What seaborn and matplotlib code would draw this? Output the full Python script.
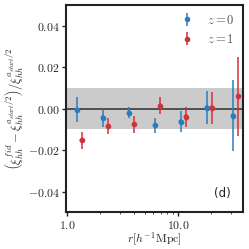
import numpy as np
import pandas as pd
import seaborn as sns
import matplotlib.pyplot as plt
from matplotlib.ticker import FuncFormatter, FixedLocator

sns.set_style("ticks")
plt.rcParams["mathtext.fontset"] = "cm"

# values
r_z0 = [1.23, 2.11, 3.62, 6.21, 10.6, 18.2, 31.3]
d_z0 = [-0.0005, -0.0043, -0.0020, -0.0080, -0.0062, 0.0005, -0.0033]
e_z0 = [0.0060, 0.0043, 0.0026, 0.0036, 0.0050, 0.0080, 0.0170]

r_z1 = [1.36, 2.34, 4.02, 6.90, 11.8, 20.2, 34.8]
d_z1 = [-0.0153, -0.0085, -0.0076, 0.0014, -0.0038, 0.0005, 0.0060]
e_z1 = [0.0043, 0.0038, 0.0043, 0.0040, 0.0048, 0.0077, 0.0190]

df = pd.DataFrame({
    "r": r_z0 + r_z1,
    "d": d_z0 + d_z1,
    "e": e_z0 + e_z1,
    "z": ["$z=0$"] * len(r_z0) + ["$z=1$"] * len(r_z1),
})
colors = {"$z=0$": "#2b7bbf", "$z=1$": "#d1313a"}

fig = plt.figure(figsize=(2.49, 2.49), dpi=100)
ax = fig.add_axes([0.265, 0.147, 0.711, 0.833])

# band and zero line
ax.axhspan(-0.01, 0.01, color="#cbcbcb", zorder=0, lw=0)
ax.axhline(0, color="#505050", lw=1.4, zorder=1)

for lab, g in df.groupby("z"):
    c = colors[lab]
    ax.errorbar(g["r"], g["d"], yerr=g["e"], fmt="o", ms=3.0, color=c,
                ecolor=c, elinewidth=1.1, capsize=0, label=lab, zorder=3)

sns.scatterplot(data=df, x="r", y="d", hue="z", palette=colors, s=11,
                linewidth=0, legend=False, ax=ax, zorder=4)

ax.set_xscale("log")
ax.set_xlim(0.98, 38.5)
ax.set_ylim(-0.05, 0.05)
ax.set_yticks([-0.04, -0.02, 0.0, 0.02, 0.04])
ax.xaxis.set_major_locator(FixedLocator([1.0, 10.0]))
ax.xaxis.set_major_formatter(FuncFormatter(lambda v, p: f"${v:.1f}$"))
ax.yaxis.set_major_formatter(FuncFormatter(lambda v, p: f"${v:.2f}$"))

ax.tick_params(axis="both", which="major", labelsize=8.5, length=3,
               width=1, color="#222222", direction="out", pad=1.5)
ax.tick_params(axis="x", which="minor", length=1.5, width=0.6)
for s in ax.spines.values():
    s.set_linewidth(1.5)
    s.set_color("#222222")

ax.set_xlabel(r"$r[h^{-1}\mathrm{Mpc}]$", fontsize=8.5, labelpad=-0.5)
ax.set_ylabel(r"$\left(\xi^{fid}_{hh}-\xi^{a_{start}/2}_{hh}\right)/\xi^{a_{start}/2}_{hh}$",
              fontsize=9, labelpad=1)

leg = ax.legend(loc="upper right", frameon=False, fontsize=9,
                handletextpad=0.6, borderaxespad=0.3, labelspacing=0.5)
for t in leg.get_texts():
    t.set_color("#555555")

ax.text(0.93, 0.06, "(d)", transform=ax.transAxes, ha="right", va="bottom",
        fontsize=8.5, color="#222222")

fig.savefig("out.png", dpi=100)
